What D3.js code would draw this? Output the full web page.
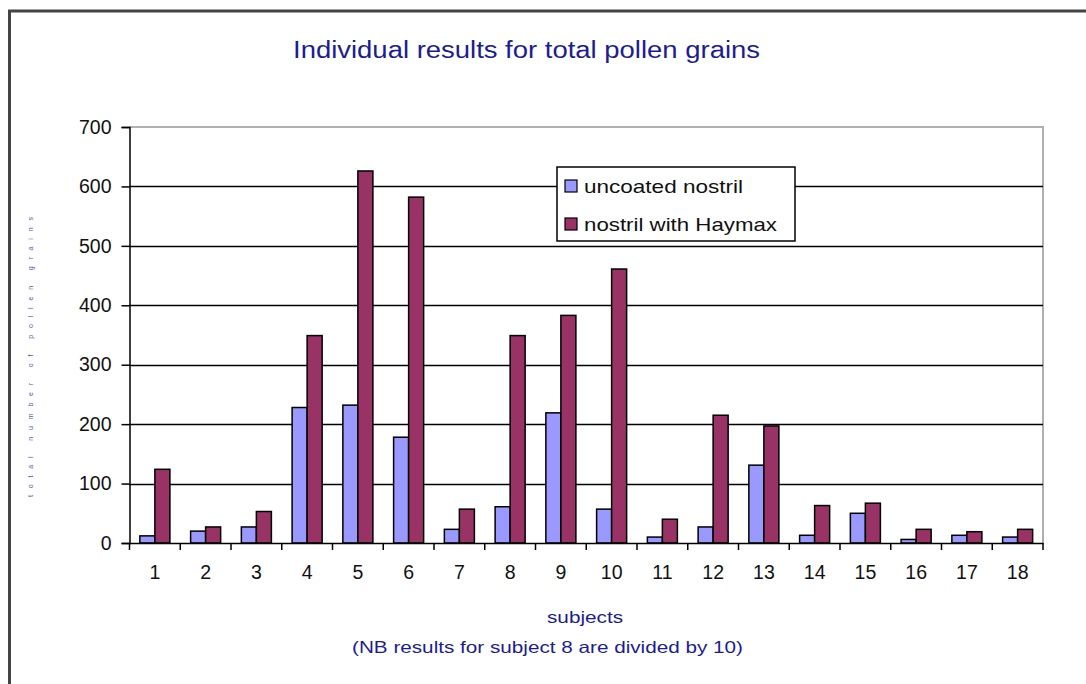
<!DOCTYPE html>
<html>
<head>
<meta charset="utf-8">
<script src="https://cdn.jsdelivr.net/npm/d3@7"></script>
<style>
  html, body { margin: 0; padding: 0; background: #fff; }
  svg { display: block; }
  text { font-family: "Liberation Sans", Arial, sans-serif; }
</style>
</head>
<body>
<svg id="chart" width="1086" height="684"></svg>
<script>
const subjects = ["1","2","3","4","5","6","7","8","9","10","11","12","13","14","15","16","17","18"];
const uncoated = [12, 20, 27, 228, 232, 178, 23, 61, 219, 57, 10, 27, 131, 13, 50, 6, 13, 10];
const haymax   = [124, 27, 53, 349, 626, 582, 57, 349, 383, 461, 40, 215, 197, 63, 67, 23, 19, 23];
const seriesNames = ["uncoated nostril", "nostril with Haymax"];
const seriesColors = ["#9999FF", "#993366"];
const yTicks = [0, 100, 200, 300, 400, 500, 600, 700];
const titleText = "Individual results for total pollen grains";
const xTitle = "subjects";
const xNote = "(NB results for subject 8 are divided by 10)";
const yTitle = "total number of pollen grains";

(function () {
const svg = d3.select("#chart");
const navy = "#1c1c96";

// outer frame
svg.append("path")
  .attr("d", "M9.5,684 L9.5,11 L1086,11")
  .attr("fill", "none").attr("stroke", "#444").attr("stroke-width", 3);

const pLeft = 129.5, pRight = 1043, pTop = 127, pBottom = 543;

const x0 = d3.scaleBand().domain(subjects).range([pLeft, pRight]).paddingInner(0).paddingOuter(0);
const x1 = d3.scaleBand().domain([0, 1]).range([0, x0.bandwidth()]).paddingInner(0).paddingOuter(0.69);
const y = d3.scaleLinear().domain([0, 700]).range([pBottom, pTop]);

// plot area border (gray top/right)
svg.append("path")
  .attr("d", `M${pLeft},${pTop} L${pRight},${pTop} L${pRight},${pBottom}`)
  .attr("fill", "none").attr("stroke", "#b0b0b0").attr("stroke-width", 2);

// gridlines
svg.append("g").selectAll("line")
  .data(yTicks.filter(d => d > 0 && d < 700))
  .join("line")
  .attr("x1", pLeft).attr("x2", pRight)
  .attr("y1", d => Math.round(y(d)) + 0.5).attr("y2", d => Math.round(y(d)) + 0.5)
  .attr("stroke", "#000").attr("stroke-width", 1.5);

// bars
const groups = svg.append("g").selectAll("g")
  .data(subjects.map((s, i) => ({ s, vals: [uncoated[i], haymax[i]] })))
  .join("g")
  .attr("transform", d => `translate(${x0(d.s)},0)`);

groups.selectAll("rect")
  .data(d => d.vals.map((v, k) => ({ v, k })))
  .join("rect")
  .attr("x", d => x1(d.k))
  .attr("width", x1.bandwidth())
  .attr("y", d => y(d.v))
  .attr("height", d => y(0) - y(d.v))
  .attr("fill", d => seriesColors[d.k])
  .attr("stroke", "#000").attr("stroke-width", 1.5);

// y axis
const yAxis = d3.axisLeft(y).tickValues(yTicks).tickSize(8).tickPadding(10).tickFormat(d3.format("d"));
const gy = svg.append("g").attr("transform", `translate(${pLeft},0)`).call(yAxis);
gy.select(".domain").attr("stroke", "#000").attr("stroke-width", 1.5);
gy.selectAll(".tick line").attr("stroke", "#000").attr("stroke-width", 1.5);
gy.selectAll(".tick text")
  .attr("fill", "#111").attr("font-size", 19.5)
  .attr("font-family", "Liberation Sans, Arial, sans-serif");

// x axis
const xAxis = d3.axisBottom(x0).tickSize(0).tickPadding(22);
const gx = svg.append("g").attr("transform", `translate(0,${pBottom})`).call(xAxis);
gx.select(".domain").attr("stroke", "#000").attr("stroke-width", 1.5);
gx.selectAll(".tick text")
  .attr("fill", "#111").attr("font-size", 19.5)
  .attr("font-family", "Liberation Sans, Arial, sans-serif");
// category separator ticks
svg.append("g").selectAll("line")
  .data(subjects.concat(["end"]))
  .join("line")
  .attr("x1", (d, i) => i < subjects.length ? x0(d) : pRight)
  .attr("x2", (d, i) => i < subjects.length ? x0(d) : pRight)
  .attr("y1", pBottom).attr("y2", pBottom + 7)
  .attr("stroke", "#000").attr("stroke-width", 1.5);

// title
svg.append("text")
  .attr("x", 293).attr("y", 58)
  .attr("textLength", 467).attr("lengthAdjust", "spacingAndGlyphs")
  .attr("font-size", 23).attr("fill", navy)
  .text(titleText);

// x titles
svg.append("text")
  .attr("x", 547).attr("y", 623)
  .attr("textLength", 76).attr("lengthAdjust", "spacingAndGlyphs")
  .attr("font-size", 16.5).attr("fill", navy)
  .text(xTitle);
svg.append("text")
  .attr("x", 352).attr("y", 653)
  .attr("textLength", 391).attr("lengthAdjust", "spacingAndGlyphs")
  .attr("font-size", 16.5).attr("fill", navy)
  .text(xNote);

// y title (faint, tiny)
svg.append("text")
  .attr("transform", "translate(33,497) rotate(-90)")
  .attr("textLength", 280).attr("lengthAdjust", "spacing")
  .attr("font-size", 7).attr("fill", "#5555bb")
  .text(yTitle);

// legend
const lg = svg.append("g");
lg.append("rect")
  .attr("x", 557).attr("y", 167).attr("width", 238).attr("height", 74)
  .attr("fill", "#fff").attr("stroke", "#000").attr("stroke-width", 1.5);
const lItems = lg.selectAll("g.item")
  .data(seriesNames.map((n, i) => ({ n, c: seriesColors[i], i })))
  .join("g").attr("class", "item");
lItems.append("rect")
  .attr("x", 565).attr("y", d => 180 + d.i * 38)
  .attr("width", 12).attr("height", 12)
  .attr("fill", d => d.c).attr("stroke", "#000").attr("stroke-width", 1.2);
lItems.append("text")
  .attr("x", 584).attr("y", d => 193 + d.i * 38)
  .attr("textLength", d => d.i === 0 ? 159 : 193)
  .attr("lengthAdjust", "spacingAndGlyphs")
  .attr("font-size", 19).attr("fill", "#111")
  .text(d => d.n);
})();
</script>
</body>
</html>
